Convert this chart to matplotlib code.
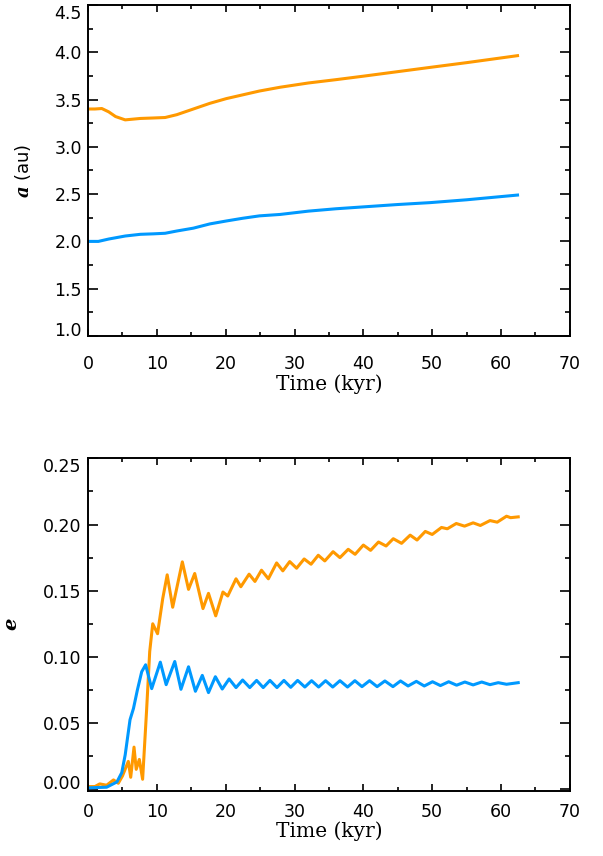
import numpy as np
import matplotlib
matplotlib.use('Agg')
from matplotlib import pyplot as plt
from matplotlib.ticker import MultipleLocator

plt.rcParams['mathtext.fontset'] = 'dejavuserif'

ORANGE = '#FF9900'
BLUE = '#0099FF'

# semi-major axis (au) vs time (kyr)
t_a_orange = [0, 1.0, 2.0, 3.0, 4.0, 5.4, 7.6, 9.5, 11.2, 12.9, 15.3, 17.7, 20.1, 22.5, 24.9,
              27.9, 32, 36, 40, 45, 49.7, 55, 62.4]
a_orange = [3.40, 3.40, 3.405, 3.37, 3.32, 3.285, 3.30, 3.305, 3.31, 3.34, 3.40, 3.46, 3.51,
            3.55, 3.59, 3.63, 3.675, 3.71, 3.747, 3.795, 3.84, 3.89, 3.964]
t_a_blue = [0, 1.5, 3.0, 5.4, 7.6, 9.5, 11.2, 12.9, 15.3, 17.7, 20.1, 22.5, 24.9, 27.9,
            32, 36, 40, 45, 49.7, 55, 62.4]
a_blue = [2.00, 2.00, 2.025, 2.057, 2.075, 2.08, 2.086, 2.11, 2.14, 2.185, 2.216, 2.245,
          2.27, 2.285, 2.32, 2.345, 2.365, 2.39, 2.41, 2.44, 2.49]

# eccentricity vs time (kyr)
t_e_orange = [0, 1.0, 1.7, 2.7, 3.7, 4.4, 5.0, 5.85, 6.2, 6.68, 7.0, 7.45, 7.93, 8.5, 8.96,
              9.4, 10.1, 10.85, 11.5, 12.3, 13.7, 14.6, 15.5, 16.7, 17.5, 18.55, 19.6, 20.3,
              21.5, 22.2, 23.4, 24.25, 25.2, 26.2, 27.4, 28.3, 29.3, 30.3, 31.4, 32.4, 33.45,
              34.4, 35.6, 36.6, 37.8, 38.8, 40.0, 41.05, 42.2, 43.3, 44.35, 45.55, 46.8, 47.8,
              49.0, 50.0, 51.35, 52.2, 53.5, 54.7, 55.95, 57.0, 58.4, 59.45, 60.8, 61.4, 62.5]
e_orange = [0.002, 0.002, 0.004, 0.003, 0.007, 0.0045, 0.010, 0.021, 0.009, 0.0318, 0.015,
            0.0225, 0.0075, 0.059, 0.104, 0.125, 0.1175, 0.144, 0.162, 0.1375, 0.1718, 0.151,
            0.163, 0.1365, 0.148, 0.131, 0.149, 0.146, 0.159, 0.153, 0.1625, 0.157, 0.1655,
            0.159, 0.171, 0.165, 0.172, 0.167, 0.174, 0.170, 0.1768, 0.1725, 0.1795, 0.175,
            0.1813, 0.1775, 0.1845, 0.1805, 0.1868, 0.1838, 0.1893, 0.1858, 0.192, 0.1883,
            0.1948, 0.1925, 0.1978, 0.1968, 0.2008, 0.1988, 0.2013, 0.1993, 0.203, 0.2018,
            0.2063, 0.2052, 0.2058]
t_e_blue = [0, 2.7, 4.2, 4.9, 5.4, 6.1, 6.6, 7.17, 7.8, 8.37, 9.25, 10.5, 11.35, 12.6, 13.5,
            14.6, 15.6, 16.6, 17.5, 18.5, 19.5, 20.5, 21.5, 22.46, 23.5, 24.49, 25.45, 26.43,
            27.45, 28.46, 29.45, 30.45, 31.5, 32.48, 33.5, 34.51, 35.55, 36.6, 37.7, 38.77,
            39.8, 40.9, 42.0, 43.13, 44.3, 45.4, 46.5, 47.7, 48.85, 50.05, 51.2, 52.4, 53.55,
            54.75, 55.95, 57.2, 58.4, 59.6, 60.8, 62.5]
e_blue = [0.001, 0.0015, 0.0055, 0.0125, 0.026, 0.0525, 0.061, 0.075, 0.0888, 0.094, 0.076,
          0.096, 0.079, 0.0965, 0.0755, 0.0925, 0.074, 0.086, 0.073, 0.085, 0.0757, 0.0833,
          0.0768, 0.0825, 0.0768, 0.0822, 0.0768, 0.0822, 0.0768, 0.0822, 0.077, 0.0822,
          0.0772, 0.082, 0.0772, 0.082, 0.0772, 0.082, 0.0772, 0.082, 0.0775, 0.082, 0.0775,
          0.0818, 0.0775, 0.0818, 0.078, 0.0815, 0.078, 0.0812, 0.0783, 0.0812, 0.0786, 0.081,
          0.0788, 0.081, 0.079, 0.0805, 0.0793, 0.0805]

fig = plt.figure(figsize=(6.03, 8.56), dpi=100)
ax1 = fig.add_axes([0.146, 0.6075, 0.799, 0.3867])
ax2 = fig.add_axes([0.146, 0.0765, 0.799, 0.388])

lw = 2.2
ax1.plot(t_a_orange, a_orange, color=ORANGE, lw=lw)
ax1.plot(t_a_blue, a_blue, color=BLUE, lw=lw)
ax2.plot(t_e_orange, e_orange, color=ORANGE, lw=lw, solid_joinstyle='round')
ax2.plot(t_e_blue, e_blue, color=BLUE, lw=lw, solid_joinstyle='round')

ax1.set_xlim(0, 70)
ax1.set_ylim(1.0, 4.5)
ax1.yaxis.set_major_locator(MultipleLocator(0.5))
ax1.yaxis.set_minor_locator(MultipleLocator(0.25))
ax1.yaxis.set_major_formatter('{x:.1f}')

ax2.set_xlim(0, 70)
ax2.set_ylim(-0.001, 0.25)
ax2.yaxis.set_major_locator(MultipleLocator(0.05))
ax2.yaxis.set_minor_locator(MultipleLocator(0.025))
ax2.yaxis.set_major_formatter('{x:.2f}')

for ax, xpad in [(ax1, 13.5), (ax2, 9.0)]:
    ax.xaxis.set_major_locator(MultipleLocator(10))
    ax.xaxis.set_minor_locator(MultipleLocator(5))
    for s in ax.spines.values():
        s.set_linewidth(1.4)
    ax.tick_params(which='both', direction='in', top=True, right=True, width=1.2,
                   labelsize=12.5, colors='black')
    ax.tick_params(axis='y', which='major', length=7.2, pad=4.5)
    ax.tick_params(axis='y', which='minor', length=3.6)
    ax.tick_params(axis='x', which='major', length=5, pad=xpad)
    ax.tick_params(axis='x', which='minor', length=3.2)
    ax.set_xlabel('Time (kyr)', family='DejaVu Serif', fontsize=14.5)

# end labels sit inside the frame, as in the original
fig.canvas.draw()
for ax, lo, hi in [(ax1, 1.0, 4.5), (ax2, 0.0, 0.25)]:
    for tick in ax.yaxis.get_major_ticks():
        if abs(tick.get_loc() - lo) < 1e-6:
            tick.label1.set_va('baseline')
        if abs(tick.get_loc() - hi) < 1e-6:
            tick.label1.set_va('top')

ax1.set_ylabel(r'$\mathbfit{a}$ (au)', fontsize=13)
ax2.set_ylabel(r'$\mathbfit{e}$', fontsize=14)
ax1.yaxis.set_label_coords(-0.114, 0.5)
ax2.yaxis.set_label_coords(-0.14, 0.5)
ax1.xaxis.set_label_coords(0.5, -0.115)
ax2.xaxis.set_label_coords(0.5, -0.093)

plt.savefig('out.png', dpi=100)
